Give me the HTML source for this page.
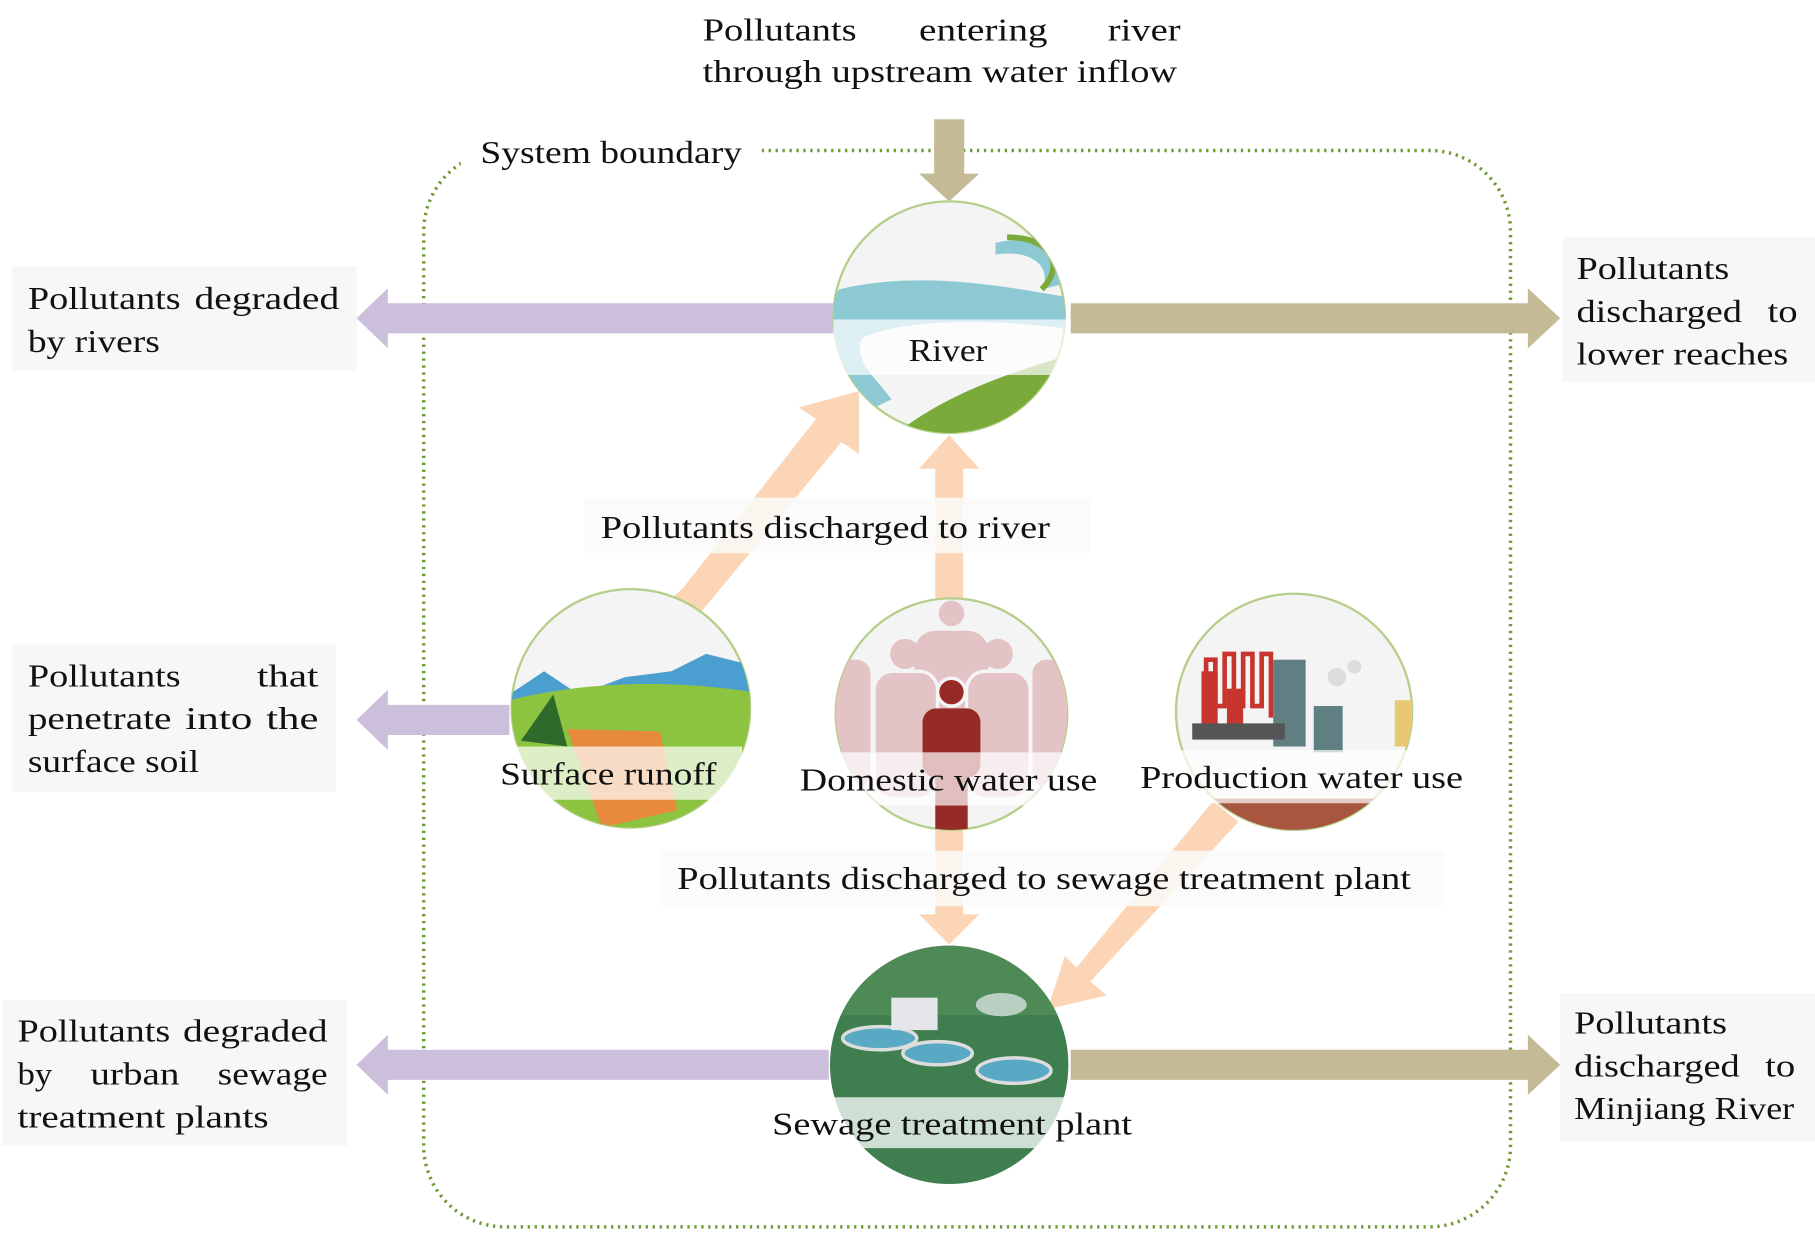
<!DOCTYPE html>
<html><head><meta charset="utf-8"><style>
html,body{margin:0;padding:0;background:#fff;}
svg{display:block;}
text{font-family:"Liberation Serif",serif;font-size:27px;fill:#111;}
</style></head><body>
<svg width="1815" height="1250" viewBox="0 0 1568 1080" xmlns="http://www.w3.org/2000/svg">
<defs>
<clipPath id="c1"><circle cx="820" cy="274" r="100"/></clipPath>
<clipPath id="c2"><circle cx="545" cy="612" r="103"/></clipPath>
<clipPath id="c3"><circle cx="822" cy="617" r="100"/></clipPath>
<clipPath id="c4"><circle cx="1118" cy="615" r="102"/></clipPath>
<clipPath id="c5"><circle cx="820" cy="920" r="103"/></clipPath>
</defs>
<rect width="1568" height="1080" fill="#fff"/>
<rect x="366" y="130" width="939" height="930" rx="70" fill="none" stroke="#6f9a35" stroke-width="3" stroke-dasharray="2,4"/>
<rect x="398" y="105" width="260" height="55" fill="#fff"/>
<text x="415" y="141" textLength="226" lengthAdjust="spacingAndGlyphs">System boundary</text>
<polygon points="807,103 833,103 833,150 846,150 820,174 794,150 807,150" fill="#c4bb96"/>
<text x="607" y="35" textLength="133" lengthAdjust="spacingAndGlyphs">Pollutants</text><text x="794" y="35" textLength="111" lengthAdjust="spacingAndGlyphs">entering</text><text x="957" y="35" textLength="63" lengthAdjust="spacingAndGlyphs">river</text>
<text x="607" y="71" textLength="410" lengthAdjust="spacingAndGlyphs">through upstream water inflow</text>
<polygon points="720,262 335,262 335,249 308,275 335,301 335,288 720,288" fill="#cbbfdc"/>
<polygon points="440,609 335,609 335,596 308,622 335,648 335,635 440,635" fill="#cbbfdc"/>
<polygon points="716,907 335,907 335,894 308,920 335,946 335,933 716,933" fill="#cbbfdc"/>
<polygon points="925,262 1320,262 1320,249 1348,275 1320,301 1320,288 925,288" fill="#c4bb96"/>
<polygon points="925,907 1320,907 1320,894 1348,920 1320,946 1320,933 925,933" fill="#c4bb96"/>
<polygon points="575,522 598,538 727,382 742,392 742,338 690,352 705,362 590,508" fill="#fbd5b5"/>
<polygon points="808,520 832,520 832,405 846,405 820,376 794,405 808,405" fill="#fbd5b5"/>
<polygon points="808,715 832,715 832,790 846,790 820,816 794,790 808,790" fill="#fbd5b5"/>
<polygon points="1048,692 1070,710 942,848 956,860 905,872 920,826 930,836" fill="#fbd5b5"/>
<circle cx="820" cy="274" r="100" fill="#f4f4f4" stroke="#b5cf8a" stroke-width="2"/>
<g clip-path="url(#c1)">
<path d="M725,250 C800,232 880,250 930,258 L930,285 C860,275 780,275 745,292 C735,310 760,330 770,345 L740,360 C715,320 710,270 725,250 Z" fill="#8cc9d3"/>
<path d="M860,210 C895,200 935,220 920,245 L900,250 C910,230 890,215 860,220 Z" fill="#8cc9d3"/>
<path d="M770,378 C810,345 860,325 930,305 L930,380 Z" fill="#7aaa3a"/>
<path d="M870,205 C910,205 920,230 900,250" stroke="#7aaa3a" stroke-width="5" fill="none"/>
</g>
<rect x="720" y="276" width="205" height="48" fill="#fff" opacity="0.7"/>
<text x="785" y="312" textLength="68" lengthAdjust="spacingAndGlyphs">River</text>
<circle cx="545" cy="612" r="103" fill="#f4f4f4" stroke="#b5cf8a" stroke-width="2"/>
<g clip-path="url(#c2)">
<polygon points="440,600 470,580 500,600 540,585 580,580 610,565 650,575 650,610 440,620" fill="#4a9fd0"/>
<path d="M440,605 C520,585 600,590 650,598 L650,720 L440,720 Z" fill="#8cc43f"/>
<polygon points="490,630 570,632 585,700 520,715" fill="#e88a3e"/>
<polygon points="450,640 478,600 490,645" fill="#2f6a2a"/>
</g>
<rect x="405" y="645" width="236" height="46" fill="#fff" opacity="0.7"/>
<text x="432" y="678" textLength="187" lengthAdjust="spacingAndGlyphs">Surface runoff</text>
<circle cx="822" cy="617" r="100" fill="#f4f4f4" stroke="#b5cf8a" stroke-width="2"/>
<g clip-path="url(#c3)">
<circle cx="822" cy="530" r="11" fill="#e3c3c5"/>
<rect x="790" y="545" width="64" height="100" rx="18" fill="#e3c3c5"/>
<circle cx="782" cy="565" r="13" fill="#e3c3c5"/>
<circle cx="862" cy="565" r="13" fill="#e3c3c5"/>
<rect x="755" y="580" width="55" height="110" rx="16" fill="#e3c3c5" stroke="#f4f4f4" stroke-width="3"/>
<rect x="835" y="580" width="55" height="110" rx="16" fill="#e3c3c5" stroke="#f4f4f4" stroke-width="3"/>
<rect x="720" y="570" width="32" height="110" rx="12" fill="#e3c3c5"/>
<rect x="892" y="570" width="32" height="110" rx="12" fill="#e3c3c5"/>
<circle cx="822" cy="598" r="12" fill="#962a26" stroke="#f4f4f4" stroke-width="3"/>
<rect x="797" y="612" width="50" height="60" rx="12" fill="#962a26"/>
<rect x="808" y="660" width="28" height="60" fill="#962a26"/>
</g>
<rect x="670" y="650" width="300" height="46" fill="#fff" opacity="0.7"/>
<text x="691" y="683" textLength="257" lengthAdjust="spacingAndGlyphs">Domestic water use</text>
<circle cx="1118" cy="615" r="102" fill="#f4f4f4" stroke="#b5cf8a" stroke-width="2"/>
<g clip-path="url(#c4)">
<path d="M1042,625 V570 h8 v40 h8 v-45 h8 v45 h8 v-45 h8 v45 h8 v-45 h8 v55" stroke="#c8352e" stroke-width="4" fill="none"/>
<rect x="1038" y="580" width="14" height="50" fill="#c8352e"/>
<rect x="1060" y="595" width="14" height="35" fill="#c8352e"/>
<rect x="1100" y="570" width="28" height="75" fill="#5f7f83"/>
<rect x="1135" y="610" width="25" height="40" fill="#5f7f83"/>
<circle cx="1155" cy="585" r="8" fill="#ddd"/><circle cx="1170" cy="576" r="6" fill="#ddd"/>
<rect x="1030" y="625" width="80" height="14" fill="#555"/>
<rect x="1205" y="605" width="15" height="40" fill="#e8c870"/>
<rect x="1016" y="690" width="205" height="30" fill="#a85640"/>
</g>
<rect x="970" y="648" width="310" height="46" fill="#fff" opacity="0.7"/>
<text x="985" y="681" textLength="279" lengthAdjust="spacingAndGlyphs">Production water use</text>
<circle cx="820" cy="920" r="103" fill="#3f7f4f"/>
<g clip-path="url(#c5)">
<rect x="717" y="817" width="206" height="60" fill="#4e8a55"/>
<ellipse cx="760" cy="897" rx="32" ry="10" fill="#5aa9c4" stroke="#ddd" stroke-width="3"/>
<ellipse cx="810" cy="910" rx="30" ry="10" fill="#5aa9c4" stroke="#ddd" stroke-width="3"/>
<ellipse cx="876" cy="925" rx="32" ry="11" fill="#5aa9c4" stroke="#ddd" stroke-width="3"/>
<rect x="770" y="862" width="40" height="28" fill="#e6e6ea"/>
<ellipse cx="865" cy="868" rx="22" ry="10" fill="#b9cfc2"/>
</g>
<rect x="645" y="948" width="352" height="44" fill="#fff" opacity="0.75"/>
<text x="667" y="980" textLength="311" lengthAdjust="spacingAndGlyphs">Sewage treatment plant</text>
<rect x="505" y="430" width="437" height="48" fill="#fafafa" opacity="0.85"/>
<text x="519" y="465" textLength="388" lengthAdjust="spacingAndGlyphs">Pollutants discharged to river</text>
<rect x="570" y="735" width="678" height="48" fill="#fafafa" opacity="0.85"/>
<text x="585" y="768" textLength="634" lengthAdjust="spacingAndGlyphs">Pollutants discharged to sewage treatment plant</text>
<rect x="10" y="230" width="298" height="90" fill="#f7f7f7"/>
<text x="24" y="267" textLength="132" lengthAdjust="spacingAndGlyphs">Pollutants</text><text x="168" y="267" textLength="125" lengthAdjust="spacingAndGlyphs">degraded</text>
<text x="24" y="304" textLength="114" lengthAdjust="spacingAndGlyphs">by rivers</text>
<rect x="10" y="556" width="280" height="128" fill="#f7f7f7"/>
<text x="24" y="593" textLength="132" lengthAdjust="spacingAndGlyphs">Pollutants</text><text x="222" y="593" textLength="53" lengthAdjust="spacingAndGlyphs">that</text>
<text x="24" y="630" textLength="124" lengthAdjust="spacingAndGlyphs">penetrate</text><text x="160" y="630" textLength="58" lengthAdjust="spacingAndGlyphs">into</text><text x="230" y="630" textLength="45" lengthAdjust="spacingAndGlyphs">the</text>
<text x="24" y="667" textLength="148" lengthAdjust="spacingAndGlyphs">surface soil</text>
<rect x="2" y="864" width="298" height="126" fill="#f7f7f7"/>
<text x="15" y="900" textLength="132" lengthAdjust="spacingAndGlyphs">Pollutants</text><text x="158" y="900" textLength="125" lengthAdjust="spacingAndGlyphs">degraded</text>
<text x="15" y="937" textLength="30" lengthAdjust="spacingAndGlyphs">by</text><text x="78" y="937" textLength="77" lengthAdjust="spacingAndGlyphs">urban</text><text x="188" y="937" textLength="95" lengthAdjust="spacingAndGlyphs">sewage</text>
<text x="15" y="974" textLength="217" lengthAdjust="spacingAndGlyphs">treatment plants</text>
<rect x="1350" y="205" width="218" height="125" fill="#f7f7f7"/>
<text x="1362" y="241" textLength="132" lengthAdjust="spacingAndGlyphs">Pollutants</text>
<text x="1362" y="278" textLength="143" lengthAdjust="spacingAndGlyphs">discharged</text><text x="1527" y="278" textLength="26" lengthAdjust="spacingAndGlyphs">to</text>
<text x="1362" y="315" textLength="183" lengthAdjust="spacingAndGlyphs">lower reaches</text>
<rect x="1348" y="858" width="220" height="128" fill="#f7f7f7"/>
<text x="1360" y="893" textLength="132" lengthAdjust="spacingAndGlyphs">Pollutants</text>
<text x="1360" y="930" textLength="143" lengthAdjust="spacingAndGlyphs">discharged</text><text x="1525" y="930" textLength="26" lengthAdjust="spacingAndGlyphs">to</text>
<text x="1360" y="967" textLength="190" lengthAdjust="spacingAndGlyphs">Minjiang River</text>
</svg>
</body></html>
